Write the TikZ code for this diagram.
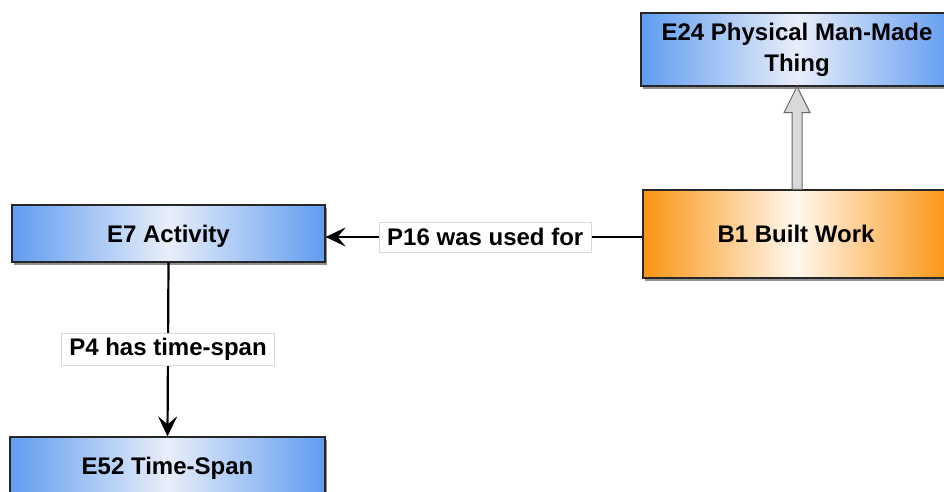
\documentclass[tikz,border=0pt]{standalone}
\usepackage{fontspec}
\setmainfont{Liberation Sans}
\usetikzlibrary{arrows.meta,shadows,calc}

\definecolor{clsblue}{RGB}{96,156,240}
\definecolor{clslight}{RGB}{232,238,249}
\definecolor{clsorange}{RGB}{250,148,18}
\definecolor{clscream}{RGB}{255,248,238}

\tikzset{
  cls/.style={draw=black!85, line width=1.2pt, rectangle,
    font=\fontsize{24}{31}\selectfont\bfseries, align=center,
    drop shadow={shadow xshift=1.5pt, shadow yshift=-3pt, opacity=0.55, fill=black!80}},
  oneline/.style={text height=17pt, text depth=0pt},
  entity/.style={cls, left color=clsblue, right color=clsblue, middle color=clslight},
  builtwork/.style={cls, left color=clsorange, right color=clsorange, middle color=clscream},
  proplabel/.style={fill=white, draw=black!15, line width=0.6pt, inner xsep=8pt,
    minimum height=30pt, font=\fontsize{24}{28}\selectfont\bfseries},
  prop/.style={line width=2.2pt, -{Stealth[length=20pt,width=19pt,inset=8pt]}},
  isa/.style={fill=black!15, draw=black!60, line width=1pt},
}

\begin{document}
\begin{tikzpicture}[x=1pt,y=-1pt]
  \useasboundingbox (0,0) rectangle (944,492);
  \clip (0,0) rectangle (944,492);

  % classes
  \node[entity, minimum width=312pt, minimum height=73pt] (e24) at (797,49.5)
    {E24 Physical Man-Made\\Thing};
  \node[builtwork, oneline, minimum width=306pt, minimum height=88pt] (b1) at (796,234)
    {B1 Built Work};
  \node[entity, oneline, minimum width=313pt, minimum height=57pt] (e7) at (168.5,233.5)
    {E7 Activity};
  \node[entity, oneline, minimum width=315pt, minimum height=57pt] (e52) at (167.5,465.5)
    {E52 Time-Span};

  % subclass link (hollow arrow)
  \coordinate (g0) at ($(b1.north)+(1,0)$);
  \coordinate (g1) at ($(e24.south)+(0,0)$);
  \draw[isa] let \p1=(g0), \p2=(g1) in
    (\x1-5pt,\y1) -- (\x1-5pt,\y2-26pt) -- (\x1-13pt,\y2-26pt) -- (\x1,\y2)
    -- (\x1+13pt,\y2-26pt) -- (\x1+5pt,\y2-26pt) -- (\x1+5pt,\y1) -- cycle;

  % properties
  \draw[prop] (b1.west |- 0,237) -- (e7.east |- 0,237)
    node[proplabel, pos=0.496] (p16) {P16 was used for};
  \draw[prop] (e7.south) -- (e52.north)
    node[proplabel, pos=0.497, minimum height=32pt] (p4) {P4 has time-span};
\end{tikzpicture}
\end{document}
